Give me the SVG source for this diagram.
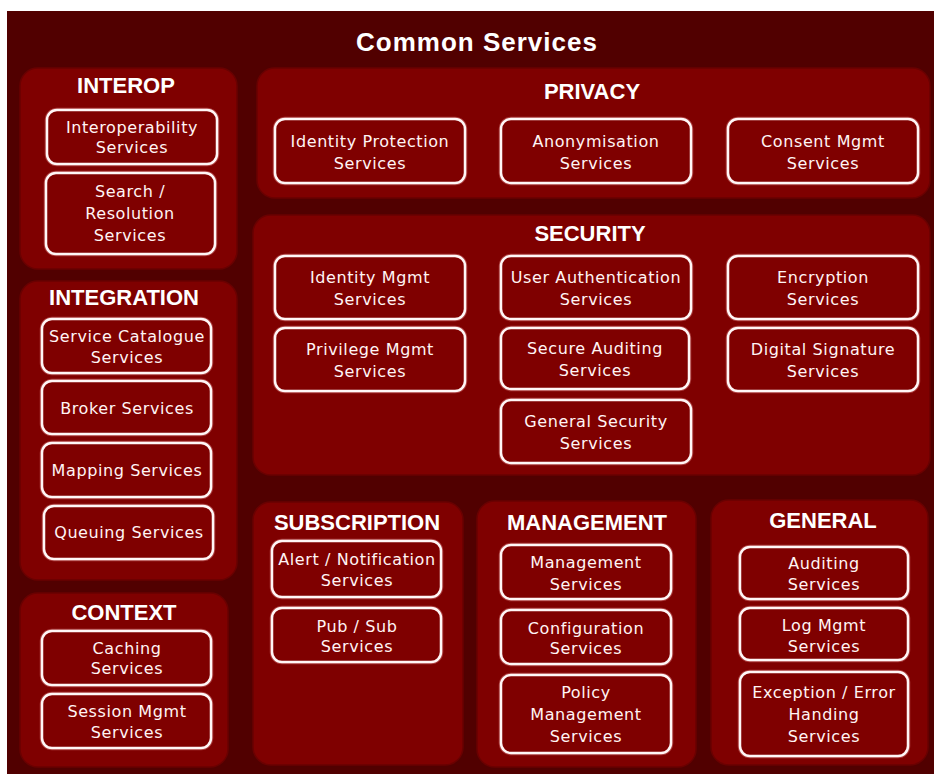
<svg xmlns="http://www.w3.org/2000/svg" width="934" height="774" viewBox="0 0 934 774">
<style>
.bg{fill:#510000}
.panel{fill:#7f0000;stroke:#6a0000;stroke-width:1.5}
.box{fill:#7f0000;stroke:#fff6f6;stroke-width:2.5}
.glow{fill:none;stroke:#ffb0b0;stroke-opacity:0.35;stroke-width:4.5}
.title{font-family:"Liberation Sans",Arial,sans-serif;font-weight:bold;font-size:22px;fill:#fff;text-anchor:middle}
.main{font-size:26px;letter-spacing:1px}
.t{font-family:"DejaVu Sans","Liberation Sans",sans-serif;font-size:16px;letter-spacing:0.6px;fill:#fff4f4;text-anchor:middle}
</style>
<rect class="bg" x="7" y="11" width="927" height="763"/>
<text class="title main" x="477" y="51">Common Services</text>

<g id="interop">
<rect class="panel" x="20" y="68" width="217" height="201" rx="18"/>
<text class="title" x="126" y="93">INTEROP</text>
</g>
<g id="integration">
<rect class="panel" x="20" y="281" width="217" height="299" rx="18"/>
<text class="title" x="124" y="305">INTEGRATION</text>
</g>
<g id="context">
<rect class="panel" x="20" y="593" width="208" height="174" rx="18"/>
<text class="title" x="124" y="620">CONTEXT</text>
</g>
<g id="privacy">
<rect class="panel" x="257" y="68" width="673" height="130" rx="18"/>
<text class="title" x="592" y="99">PRIVACY</text>
</g>
<g id="security">
<rect class="panel" x="253" y="215" width="677" height="260" rx="18"/>
<text class="title" x="590" y="241">SECURITY</text>
</g>
<g id="subscription">
<rect class="panel" x="253" y="502" width="210" height="263" rx="18"/>
<text class="title" x="357" y="530">SUBSCRIPTION</text>
</g>
<g id="management">
<rect class="panel" x="477" y="501" width="219" height="266" rx="18"/>
<text class="title" x="587" y="530">MANAGEMENT</text>
</g>
<g id="general">
<rect class="panel" x="711" y="500" width="217" height="265" rx="18"/>
<text class="title" x="823" y="528">GENERAL</text>
</g>

<g id="interoperability-services">
<rect class="glow" x="47" y="110" width="170" height="54" rx="10"/><rect class="box" x="47" y="110" width="170" height="54" rx="10"/>
<text class="t" x="132" y="133">Interoperability</text><text class="t" x="132" y="153">Services</text>
</g>
<g id="search-resolution">
<rect class="glow" x="46" y="173" width="169" height="81" rx="10"/><rect class="box" x="46" y="173" width="169" height="81" rx="10"/>
<text class="t" x="130" y="197">Search /</text><text class="t" x="130" y="219">Resolution</text><text class="t" x="130" y="241">Services</text>
</g>
<g id="service-catalogue">
<rect class="glow" x="42" y="319" width="169" height="54" rx="10"/><rect class="box" x="42" y="319" width="169" height="54" rx="10"/>
<text class="t" x="127" y="342">Service Catalogue</text><text class="t" x="127" y="363">Services</text>
</g>
<g id="broker">
<rect class="glow" x="42" y="381" width="169" height="53" rx="10"/><rect class="box" x="42" y="381" width="169" height="53" rx="10"/>
<text class="t" x="127" y="414">Broker Services</text>
</g>
<g id="mapping">
<rect class="glow" x="42" y="443" width="169" height="54" rx="10"/><rect class="box" x="42" y="443" width="169" height="54" rx="10"/>
<text class="t" x="127" y="476">Mapping Services</text>
</g>
<g id="queuing">
<rect class="glow" x="44" y="506" width="169" height="53" rx="10"/><rect class="box" x="44" y="506" width="169" height="53" rx="10"/>
<text class="t" x="129" y="538">Queuing Services</text>
</g>
<g id="caching">
<rect class="glow" x="42" y="631" width="169" height="54" rx="10"/><rect class="box" x="42" y="631" width="169" height="54" rx="10"/>
<text class="t" x="127" y="654">Caching</text><text class="t" x="127" y="674">Services</text>
</g>
<g id="session-mgmt">
<rect class="glow" x="42" y="694" width="169" height="54" rx="10"/><rect class="box" x="42" y="694" width="169" height="54" rx="10"/>
<text class="t" x="127" y="717">Session Mgmt</text><text class="t" x="127" y="738">Services</text>
</g>

<g id="identity-protection">
<rect class="glow" x="275" y="119" width="190" height="64" rx="10"/><rect class="box" x="275" y="119" width="190" height="64" rx="10"/>
<text class="t" x="370" y="147">Identity Protection</text><text class="t" x="370" y="169">Services</text>
</g>
<g id="anonymisation">
<rect class="glow" x="501" y="119" width="190" height="64" rx="10"/><rect class="box" x="501" y="119" width="190" height="64" rx="10"/>
<text class="t" x="596" y="147">Anonymisation</text><text class="t" x="596" y="169">Services</text>
</g>
<g id="consent-mgmt">
<rect class="glow" x="728" y="119" width="190" height="64" rx="10"/><rect class="box" x="728" y="119" width="190" height="64" rx="10"/>
<text class="t" x="823" y="147">Consent Mgmt</text><text class="t" x="823" y="169">Services</text>
</g>

<g id="identity-mgmt">
<rect class="glow" x="275" y="256" width="190" height="63" rx="10"/><rect class="box" x="275" y="256" width="190" height="63" rx="10"/>
<text class="t" x="370" y="283">Identity Mgmt</text><text class="t" x="370" y="305">Services</text>
</g>
<g id="user-authentication">
<rect class="glow" x="501" y="256" width="190" height="63" rx="10"/><rect class="box" x="501" y="256" width="190" height="63" rx="10"/>
<text class="t" x="596" y="283">User Authentication</text><text class="t" x="596" y="305">Services</text>
</g>
<g id="encryption">
<rect class="glow" x="728" y="256" width="190" height="63" rx="10"/><rect class="box" x="728" y="256" width="190" height="63" rx="10"/>
<text class="t" x="823" y="283">Encryption</text><text class="t" x="823" y="305">Services</text>
</g>
<g id="privilege-mgmt">
<rect class="glow" x="275" y="328" width="190" height="63" rx="10"/><rect class="box" x="275" y="328" width="190" height="63" rx="10"/>
<text class="t" x="370" y="355">Privilege Mgmt</text><text class="t" x="370" y="377">Services</text>
</g>
<g id="secure-auditing">
<rect class="glow" x="501" y="328" width="188" height="61" rx="10"/><rect class="box" x="501" y="328" width="188" height="61" rx="10"/>
<text class="t" x="595" y="354">Secure Auditing</text><text class="t" x="595" y="376">Services</text>
</g>
<g id="digital-signature">
<rect class="glow" x="728" y="328" width="190" height="63" rx="10"/><rect class="box" x="728" y="328" width="190" height="63" rx="10"/>
<text class="t" x="823" y="355">Digital Signature</text><text class="t" x="823" y="377">Services</text>
</g>
<g id="general-security">
<rect class="glow" x="501" y="400" width="190" height="63" rx="10"/><rect class="box" x="501" y="400" width="190" height="63" rx="10"/>
<text class="t" x="596" y="427">General Security</text><text class="t" x="596" y="449">Services</text>
</g>

<g id="alert-notification">
<rect class="glow" x="272" y="541" width="169" height="56" rx="10"/><rect class="box" x="272" y="541" width="169" height="56" rx="10"/>
<text class="t" x="357" y="565">Alert / Notification</text><text class="t" x="357" y="586">Services</text>
</g>
<g id="pub-sub">
<rect class="glow" x="272" y="608" width="169" height="54" rx="10"/><rect class="box" x="272" y="608" width="169" height="54" rx="10"/>
<text class="t" x="357" y="632">Pub / Sub</text><text class="t" x="357" y="652">Services</text>
</g>

<g id="management-services">
<rect class="glow" x="501" y="545" width="170" height="54" rx="10"/><rect class="box" x="501" y="545" width="170" height="54" rx="10"/>
<text class="t" x="586" y="568">Management</text><text class="t" x="586" y="590">Services</text>
</g>
<g id="configuration">
<rect class="glow" x="501" y="610" width="170" height="54" rx="10"/><rect class="box" x="501" y="610" width="170" height="54" rx="10"/>
<text class="t" x="586" y="634">Configuration</text><text class="t" x="586" y="654">Services</text>
</g>
<g id="policy-management">
<rect class="glow" x="501" y="675" width="170" height="78" rx="10"/><rect class="box" x="501" y="675" width="170" height="78" rx="10"/>
<text class="t" x="586" y="698">Policy</text><text class="t" x="586" y="720">Management</text><text class="t" x="586" y="742">Services</text>
</g>

<g id="auditing">
<rect class="glow" x="740" y="547" width="168" height="52" rx="10"/><rect class="box" x="740" y="547" width="168" height="52" rx="10"/>
<text class="t" x="824" y="569">Auditing</text><text class="t" x="824" y="590">Services</text>
</g>
<g id="log-mgmt">
<rect class="glow" x="740" y="608" width="168" height="52" rx="10"/><rect class="box" x="740" y="608" width="168" height="52" rx="10"/>
<text class="t" x="824" y="631">Log Mgmt</text><text class="t" x="824" y="652">Services</text>
</g>
<g id="exception-error">
<rect class="glow" x="740" y="672" width="168" height="84" rx="10"/><rect class="box" x="740" y="672" width="168" height="84" rx="10"/>
<text class="t" x="824" y="698">Exception / Error</text><text class="t" x="824" y="720">Handing</text><text class="t" x="824" y="742">Services</text>
</g>

<g id="connectors"/>
</svg>
